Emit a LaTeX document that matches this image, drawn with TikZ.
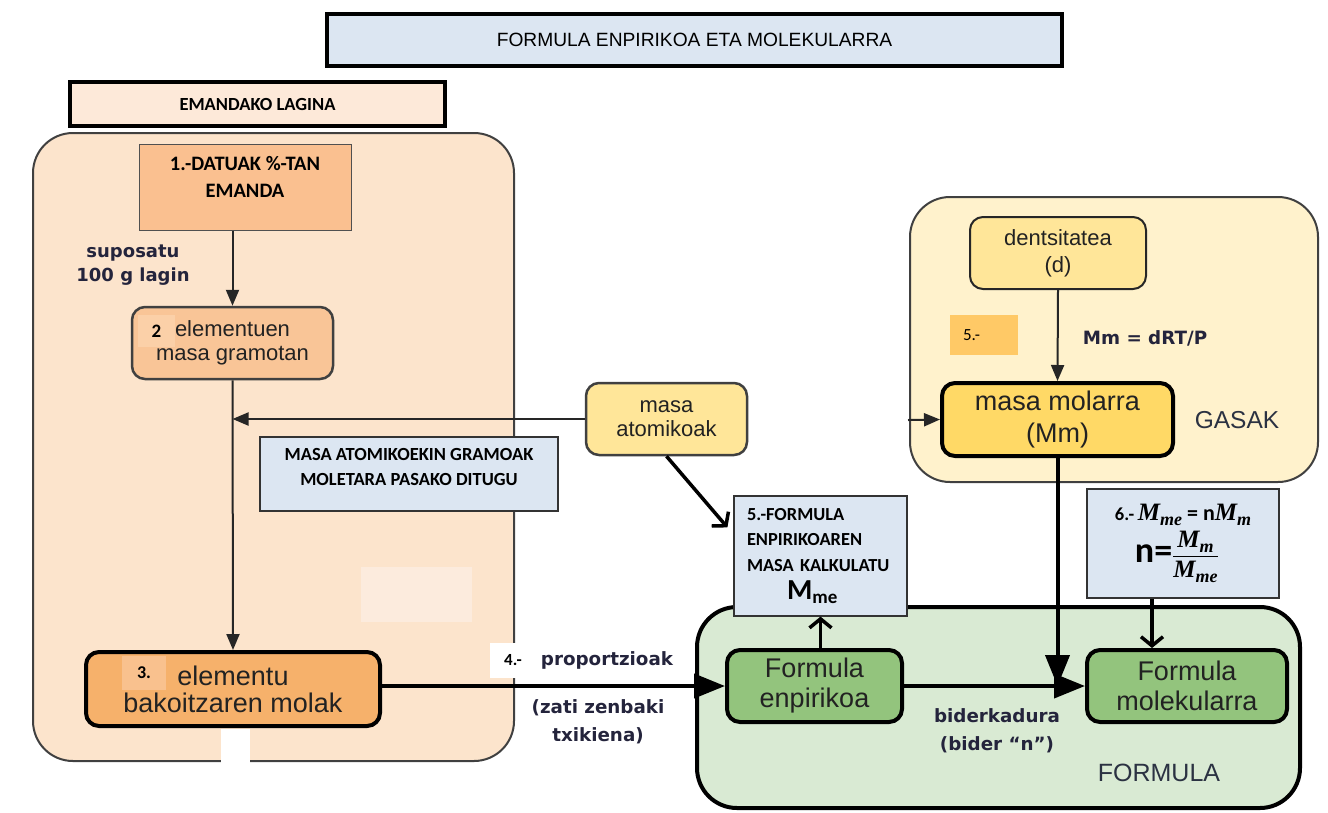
\RequirePackage{fix-cm}
\documentclass[tikz,border=0pt]{standalone}
\usepackage{amsmath}
\usepackage{fontspec}
\setmainfont{Liberation Sans}
\newfontfamily\calfont{Carlito}
\newfontfamily\verfont{DejaVu Sans}
\newfontfamily\mfont{Liberation Serif}
\usetikzlibrary{arrows.meta}
\definecolor{titleblue}{HTML}{DCE6F2}
\definecolor{laginfill}{HTML}{FDE9D9}
\definecolor{peach}{HTML}{FCE4CC}
\definecolor{paleblock}{HTML}{FCEBDD}
\definecolor{datuakfill}{HTML}{FAC090}
\definecolor{gramofill}{HTML}{F9C597}
\definecolor{tagtwofill}{HTML}{FBD0A8}
\definecolor{molakfill}{HTML}{F6B16B}
\definecolor{tagthreefill}{HTML}{F9C18E}
\definecolor{atomfill}{HTML}{FFE699}
\definecolor{gasfill}{HTML}{FFF2CC}
\definecolor{tagfivefill}{HTML}{FFC966}
\definecolor{molarfill}{HTML}{FFD966}
\definecolor{greenfill}{HTML}{D9EAD3}
\definecolor{formfill}{HTML}{93C47D}
\definecolor{regionline}{HTML}{404040}
\definecolor{boxline}{HTML}{505050}
\definecolor{darktext}{HTML}{222222}
\definecolor{verdtext}{HTML}{24243C}
\definecolor{regiontext}{HTML}{2B3242}
\newcommand{\fsz}[2]{\fontsize{#1}{#2}\selectfont}
\newcommand{\Mx}[1]{{\mfont\bfseries\itshape\fsz{25}{25}M}\raisebox{-5pt}{\mfont\bfseries\itshape\fsz{18}{18}#1}}
\begin{document}
\begin{tikzpicture}[
			x=1pt, y=-1pt,
			region/.style={draw=regionline, line width=2pt, rounded corners=40pt},
			softbox/.style={draw=regionline, line width=2.5pt, rounded corners=13pt, align=center, text=darktext, font=\fsz{22}{24}},
			boldbox/.style={draw=black, line width=4pt, rounded corners=13pt, align=center, text=darktext},
			notebox/.style={draw=black!80, line width=1.2pt, fill=titleblue},
			notetext/.style={align=center, font=\calfont\bfseries\fsz{18.5}{25}},
			tag/.style={inner sep=0, font=\calfont\bfseries\fsz{17}{17}},
			verdlabel/.style={align=center, text=verdtext, font=\verfont\bfseries\fsz{18.3}{28}},
			thinarrow/.style={draw=black!85, line width=2pt, -{Triangle[length=16pt,width=13pt]}},
			bigarrow/.style={draw=black, line width=4pt, -{Triangle[length=31pt,width=24pt]}},
			openarrow/.style={draw=black, line width=3.5pt, -{Straight Barb[length=9pt,width=22pt]}},
		]
		\useasboundingbox (0,0) rectangle (1328,812);
		\fill[white] (0,0) rectangle (1328,812);
		\draw[region, fill=peach] (33,133) rectangle (514,761);
		\fill[white] (221,729) rectangle (250,812);
		\fill[paleblock] (361,567) rectangle (472,622);
		\draw[region, fill=gasfill] (910,197) rectangle (1318,482);
		\draw[draw=black, line width=4pt, rounded corners=40pt, fill=greenfill] (697,607) rectangle (1300,808);
		\node[draw, line width=3.5pt, fill=titleblue, minimum width=735pt, minimum height=52pt, font=\fsz{19.2}{19}] (titulua) at (694.5,40) {FORMULA ENPIRIKOA ETA MOLEKULARRA};
		\node[draw, line width=4pt, fill=laginfill, minimum width=375pt, minimum height=44pt, font=\calfont\bfseries\fsz{18.5}{18}] (lagina) at (257.5,104) {EMANDAKO LAGINA};
		\node[draw=boxline, line width=1pt, fill=datuakfill, minimum width=212pt, minimum height=86pt,
			label={[notetext, font=\calfont\bfseries\fsz{20.5}{27}, yshift=10.5pt]center:1.-DATUAK \%-TAN\\EMANDA}] (datuak) at (245,187) {};
		\node[verdlabel, font=\verfont\bfseries\fsz{18}{24}] (suposatu) at (133,265) {suposatu\\100 g lagin};
		\node[softbox, fill=gramofill, minimum width=201pt, minimum height=72pt] (gramo) at (232.5,343) {elementuen\\masa gramotan};
		\node[tag, fill=tagtwofill, minimum width=37pt, minimum height=32pt, font=\calfont\bfseries\fsz{19}{19}] (zenbbi) at (156.5,331) {2};
		\node[notebox, minimum width=298pt, minimum height=74pt,
			label={[notetext, yshift=7.5pt]center:MASA ATOMIKOEKIN GRAMOAK\\MOLETARA PASAKO DITUGU}] (gramoak) at (409,474) {};
		\node[boldbox, fill=molakfill, minimum width=294pt, minimum height=74pt, font=\fsz{27}{27}] (molak) at (233,689) {elementu\\bakoitzaren molak};
		\node[tag, fill=tagthreefill, minimum width=44pt, minimum height=34pt, font=\calfont\bfseries\fsz{18}{18}] (zenbhiru) at (144,673) {3.};
		\node[tag, fill=white, minimum width=46pt, minimum height=35pt] (zenblau) at (513,660) {4.-};
		\node[verdlabel] (proportzio) at (607,660) {proportzioak};
		\node[verdlabel] (zati) at (598,722) {(zati zenbaki\\txikiena)};
		\node[softbox, fill=atomfill, minimum width=161pt, minimum height=72pt] (atomiko) at (666.5,419) {masa\\atomikoak};
		\node[notebox, minimum width=173pt, minimum height=120pt, inner xsep=13pt, text width=147pt, align=left, font=\calfont\bfseries\fsz{18.4}{25.5}] (kalkulu) at (820.5,556)
			{5.-FORMULA\\ENPIRIKOAREN\\MASA KALKULATU\\[3pt]\hspace*{40pt}{\fsz{29}{29}M}\raisebox{-4pt}{\fsz{19}{19}me}};
		\node[softbox, draw=black!85, line width=2pt, fill=atomfill, minimum width=176pt, minimum height=72pt, font=\fsz{22}{27}] (dentsi) at (1058,253) {dentsitatea\\(d)};
		\node[tag, fill=tagfivefill, minimum width=68pt, minimum height=40pt, inner xsep=13pt, text width=42pt, align=left, font=\calfont\fsz{17}{17}] (zenbbost) at (984,335) {5.-};
		\node[verdlabel] (formula) at (1145,338) {Mm = dRT/P};
		\node[boldbox, fill=molarfill, minimum width=231pt, minimum height=73pt, font=\fsz{27}{32}] (molar) at (1057.5,419.5) {masa molarra\\(Mm)};
		\node[text=regiontext, font=\fsz{24.5}{24}] (gasak) at (1237,420) {GASAK};
		\node[boldbox, fill=formfill, minimum width=175pt, minimum height=72pt, font=\fsz{27}{30}] (enpiriko) at (814.5,686) {Formula\\enpirikoa};
		\node[boldbox, fill=formfill, minimum width=200pt, minimum height=72pt, font=\fsz{27}{30}] (molek) at (1187,686) {Formula\\molekularra};
		\node[verdlabel] (biderka) at (997,731) {biderkadura\\(bider “n”)};
		\node[text=regiontext, font=\fsz{25}{25}] (formulatxt) at (1159,773) {FORMULA};
		\node[notebox, minimum width=192pt, minimum height=109pt, align=left, inner sep=0, font=\calfont\bfseries\fsz{22}{26}] (nkalk) at (1183,543.5)
			{{\fsz{18.5}{18}6.-}\,\Mx{me} = n\Mx{m}\\[4pt]
			\hspace*{20pt}{\fsz{36}{36}n=}$\dfrac{\mbox{\Mx{m}}}{\mbox{\Mx{me}}}$};
		\coordinate (gasabiatu) at (908,420);
		\draw[thinarrow] (datuak.south -| gramo.north) -- (gramo.north);
		\draw[thinarrow] (gramo.south) -- (molak.north);
		\draw[thinarrow] (atomiko.west) -- (atomiko.west -| gramo.south);
		\draw[bigarrow] (enpiriko.west -| molak.east) -- (enpiriko.west);
		\draw[openarrow] (atomiko.south) -- ([shift={(-6,32)}]kalkulu.north west);
		\draw[openarrow] (enpiriko.north -| kalkulu.south) -- (kalkulu.south);
		\draw[thinarrow] (dentsi.south) -- (molar.north);
		\draw[thinarrow] (gasabiatu) -- (molar.west);
		\draw[bigarrow] (molar.south) -- (molar.south |- enpiriko.east);
		\draw[bigarrow] (enpiriko.east) -- (enpiriko.east -| molek.west);
		\draw[openarrow] ([xshift=-31pt]nkalk.south) -- ([xshift=-31pt]nkalk.south |- molek.north);
		\end{tikzpicture}
\end{document}
